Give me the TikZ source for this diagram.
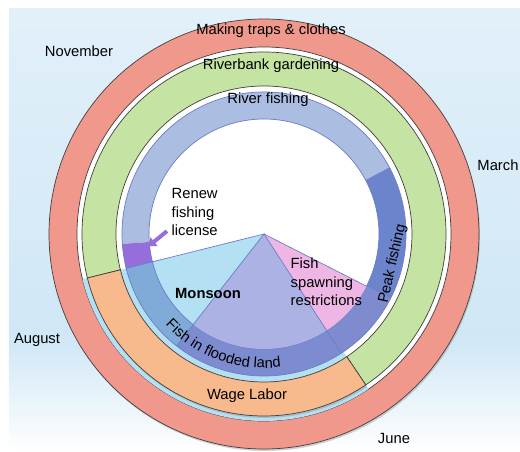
\documentclass[tikz,border=0pt]{standalone}
\usepackage{fontspec}
\setmainfont{Liberation Sans}
\usepackage{xcolor}
\usetikzlibrary{arrows.meta, positioning, decorations.text}

\definecolor{trapred}{RGB}{241,152,140}
\definecolor{gardengreen}{RGB}{197,228,163}
\definecolor{wageorange}{RGB}{248,185,140}
\definecolor{monsoonblue}{RGB}{180,224,244}
\definecolor{riverblue}{RGB}{172,189,226}
\definecolor{peakblue}{RGB}{108,132,204}
\definecolor{monsoonring}{RGB}{128,170,216}
\definecolor{floodring}{RGB}{125,140,208}
\definecolor{floodlav}{RGB}{172,178,228}
\definecolor{spawnpink}{RGB}{238,182,228}
\definecolor{licpurple}{RGB}{150,110,218}
\definecolor{edgeblue}{RGB}{105,125,200}
\definecolor{bgtop}{RGB}{226,240,249}
\definecolor{bgband}{RGB}{208,231,246}

\newcommand\lblfont{\fontsize{10.5}{13}\selectfont}

\begin{document}
\begin{tikzpicture}[x=0.025cm, y=0.025cm,
    % ring styles
    ringedge/.style={draw=black!75, line width=0.5pt},
    ringshadow/.style={fill=black!40, opacity=0.45},
    sectoredge/.style={draw=edgeblue, line width=0.5pt},
    % text styles
    txtlabel/.style={font=\lblfont, inner sep=1pt},
    blocklabel/.style={txtlabel, align=left, anchor=west},
    licarrow/.style={draw=licpurple, line width=2.8pt, -{Triangle[length=5pt, width=8pt]}}
]
\useasboundingbox (-264,-218) rectangle (256,234);

% Background
\shade[top color=bgtop, bottom color=bgband] (-255,225) rectangle (256,-106);
\shade[top color=bgband, bottom color=white] (-255,-106) rectangle (256,-218);

% Outer ring: making traps & clothes
\fill[ringshadow] (1,-2) circle[radius=215];
\path[fill=trapred, ringedge] (0,0) circle[radius=215];
\path[fill=white, ringedge] (0,0) circle[radius=187];

% Monsoon sector (under the wage labour ring)
\fill[monsoonblue] (0,0) -- (194:187) arc[start angle=194, end angle=304, radius=187] -- cycle;

% Riverbank gardening
\path[fill=gardengreen, ringedge] (-56:182) arc[start angle=-56, end angle=194, radius=182]
    -- (194:148) arc[start angle=194, end angle=-56, radius=148] -- cycle;

% Wage labour
\fill[ringshadow] ([shift={(1,-2)}]194:182) arc[start angle=194, end angle=304, radius=182]
    -- ([shift={(1,-2)}]304:148) arc[start angle=304, end angle=194, radius=148] -- cycle;
\path[fill=wageorange, ringedge] (194:182) arc[start angle=194, end angle=304, radius=182]
    -- (304:148) arc[start angle=304, end angle=194, radius=148] -- cycle;

% River fishing ring, in segments
\foreach \a/\b/\c in {28/184/riverblue, 184/194/licpurple, 194/232/monsoonring, 232/303/floodring, 303/388/peakblue} {
    \fill[\c] (\a:142) arc[start angle=\a, end angle=\b, radius=142]
        -- (\b:115) arc[start angle=\b, end angle=\a, radius=115] -- cycle;
}
\fill[spawnpink, opacity=0.15] (303:142) arc[start angle=303, end angle=333, radius=142]
    -- (333:115) arc[start angle=333, end angle=303, radius=115] -- cycle;
\draw[sectoredge] (0,0) circle[radius=142] (0,0) circle[radius=115];

% Inner sectors
\fill[floodlav] (0,0) -- (232:115) arc[start angle=232, end angle=303, radius=115] -- cycle;
\fill[spawnpink] (0,0) -- (303:115) arc[start angle=303, end angle=333, radius=115] -- cycle;
\draw[sectoredge] (194:142) -- (0,0) -- (232:142);
\draw[sectoredge] (0,0) -- (303:142);
\draw[sectoredge] (0,0) -- (333:115);

% Ring labels
\node[txtlabel] (traps) at (7,203) {Making traps \& clothes};
\node[txtlabel] (garden) at (7,168) {Riverbank gardening};
\node[txtlabel] (river) at (4,134) {River fishing};
\node[txtlabel] (wage) at (-17,-162) {Wage Labor};
\node[txtlabel, rotate=77] (peak) at (-13:132) {Peak fishing};
\path[decorate, decoration={text along path, text align=center,
      text={|\lblfont|Fish in flooded land}}]
    (214:134) arc[start angle=214, end angle=286, radius=134];

% Sector labels
\node[txtlabel, font=\lblfont\bfseries] (monsoon) at (-56,-59) {Monsoon};
\node[blocklabel] (renew) at (-94,22) {Renew\\fishing\\license};
\node[blocklabel] (spawn) at (25,-48) {Fish\\spawning\\restrictions};

% License arrow
\coordinate (lictip) at (186:116);
\draw[licarrow] ([shift={(-3,6)}]renew.south west) -- (lictip);

% Months
\node[txtlabel] (nov) at (-185,183) {November};
\node[txtlabel] (mar) at (234,69) {March};
\node[txtlabel] (aug) at (-227,-106) {August};
\node[txtlabel] (jun) at (130,-204) {June};

\end{tikzpicture}
\end{document}
